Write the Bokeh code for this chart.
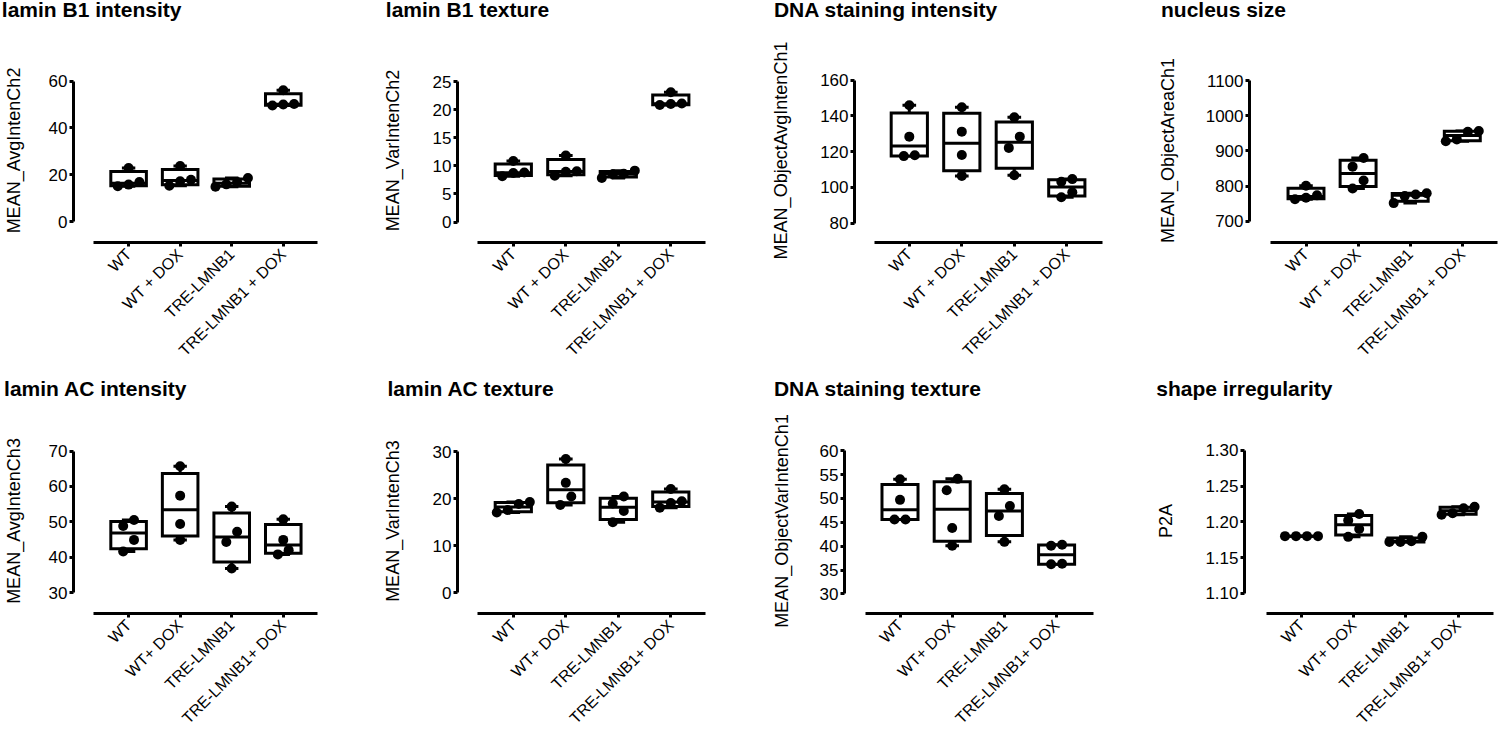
import math
from bokeh.plotting import figure
from bokeh.layouts import row, column
from bokeh.models import Range1d, FixedTicker, NumeralTickFormatter, BasicTickFormatter, Label
from bokeh.embed import file_html
from bokeh.resources import INLINE

# ------------------------------------------------------------------ data
categories_row1 = ["WT", "WT + DOX", "TRE-LMNB1", "TRE-LMNB1 + DOX"]
categories_row2 = ["WT", "WT+ DOX", "TRE-LMNB1", "TRE-LMNB1+ DOX"]

titles = ["lamin B1 intensity", "lamin B1 texture", "DNA staining intensity", "nucleus size",
          "lamin AC intensity", "lamin AC texture", "DNA staining texture", "shape irregularity"]
y_labels = ["MEAN_AvgIntenCh2", "MEAN_VarIntenCh2", "MEAN_ObjectAvgIntenCh1", "MEAN_ObjectAreaCh1",
            "MEAN_AvgIntenCh3", "MEAN_VarIntenCh3", "MEAN_ObjectVarIntenCh1", "P2A"]

ticks_lamin_b1_intensity = [0, 20, 40, 60]
ticks_lamin_b1_texture = [0, 5, 10, 15, 20, 25]
ticks_dna_intensity = [80, 100, 120, 140, 160]
ticks_nucleus_size = [700, 800, 900, 1000, 1100]
ticks_lamin_ac_intensity = [30, 40, 50, 60, 70]
ticks_lamin_ac_texture = [0, 10, 20, 30]
ticks_dna_texture = [30, 35, 40, 45, 50, 55, 60]
ticks_shape_irregularity = [1.10, 1.15, 1.20, 1.25, 1.30]

# four replicate values per group: WT, WT + DOX, TRE-LMNB1, TRE-LMNB1 + DOX
lamin_b1_intensity = [[15.2, 15.9, 17.0, 23.0], [15.4, 17.3, 18.0, 23.8],
                      [15.0, 16.0, 17.0, 18.7], [49.6, 50.0, 50.2, 56.1]]
lamin_b1_texture = [[8.14, 8.72, 8.83, 10.85], [8.26, 8.95, 9.05, 11.84],
                    [7.85, 8.5, 8.6, 9.15], [20.84, 21.0, 21.1, 23.1]]
dna_intensity = [[117.5, 118.0, 128.4, 146.0], [106.4, 118.1, 131.2, 144.9],
                 [106.8, 122.1, 128.4, 139.3], [94.4, 97.2, 103.1, 104.6]]
nucleus_size = [[762.5, 767.0, 773.6, 801.0], [792.9, 815.9, 855.4, 880.0],
                [751.5, 771.5, 776.0, 779.5], [928.0, 933.0, 955.0, 957.0]]
lamin_ac_intensity = [[41.6, 44.9, 48.8, 50.5], [44.9, 49.4, 57.4, 65.7],
                      [36.8, 44.3, 47.2, 54.3], [40.8, 42.0, 44.9, 50.7]]
lamin_ac_texture = [[17.1, 17.6, 18.9, 19.3], [18.7, 20.5, 23.4, 28.5],
                    [15.0, 17.4, 19.0, 20.5], [18.1, 19.1, 19.5, 22.1]]
dna_texture = [[45.6, 45.6, 49.7, 54.0], [40.1, 43.8, 51.7, 54.1],
               [40.9, 46.3, 48.4, 51.9], [36.2, 36.3, 40.1, 40.3]]
shape_irregularity = [[1.180, 1.180, 1.180, 1.180], [1.179, 1.190, 1.202, 1.211],
                      [1.172, 1.172, 1.173, 1.179], [1.210, 1.212, 1.219, 1.221]]

panel_data = [lamin_b1_intensity, lamin_b1_texture, dna_intensity, nucleus_size,
              lamin_ac_intensity, lamin_ac_texture, dna_texture, shape_irregularity]
panel_ticks = [ticks_lamin_b1_intensity, ticks_lamin_b1_texture, ticks_dna_intensity, ticks_nucleus_size,
               ticks_lamin_ac_intensity, ticks_lamin_ac_texture, ticks_dna_texture, ticks_shape_irregularity]
panel_cats = [categories_row1] * 4 + [categories_row2] * 4

# ------------------------------------------------------------------ layout (page pixels)
PAGE_W = 1500
# per row: (title strip top, title strip height, panel top, panel height)
ROWS = [(0, 24, 24, 350), (374, 27, 401, 340)]
LAYOUT = [
    # fig_x, W, yaxis_x, tick1_x, step, xaxis_left, xaxis_right, y_top, y_bottom, xaxis_y, title_x, title_base, ylab_base_x
    (0, 375, 69, 125, 52.4, 89, 317, 77, 221, 242, 1.3, 16.5, 13.5),
    (375, 375, 456.5, 512.3, 52.5, 476.7, 705, 76.7, 221, 242.3, 385.3, 16.5, 401),
    (750, 375, 854.5, 909.3, 52.5, 874.3, 1102.7, 80, 224.3, 244, 773.4, 16.5, 790),
    (1125, 375, 1249.5, 1306, 52.1, 1270.7, 1497.7, 76, 221, 242.3, 1160.5, 16.5, 1176),
    (0, 375, 69, 125, 52.4, 89.3, 317.3, 448, 592.7, 613.7, 3.6, 396, 13.5),
    (375, 375, 456.5, 512.3, 52.5, 476.7, 705, 448, 592.7, 614.3, 387, 396, 401),
    (750, 375, 844.5, 900, 52.2, 865, 1093.3, 450.3, 594.3, 614.3, 773.4, 396, 790),
    (1125, 375, 1244, 1301, 52.2, 1266, 1493.3, 448, 592.7, 613, 1155.7, 396, 1175),
]

FONT = "Liberation Sans"
BLACK = "#000000"
LW = 3
BOX_HALF = 0.345
CAP_HALF = 0.13
DOT = 10
TICK_FS = 17
YLAB_FS = 18
TITLE_FS = 21


def label_width(text, fs):
    w = 0.0
    for ch in text:
        w += 0.278 if ch == "." else 0.556
    return w * fs


def prism_quantile(vals, p):
    s = sorted(vals)
    n = len(s)
    pos = p * (n + 1)
    k = int(math.floor(pos))
    frac = pos - k
    if k < 1:
        return s[0]
    if k >= n:
        return s[-1]
    return s[k - 1] + frac * (s[k] - s[k - 1])


def swarm_offsets(vals, py, thresh=12.0, step=11.0):
    order = sorted(range(len(vals)), key=lambda k: vals[k])
    offs = [0.0] * len(vals)
    rows = []
    for k in order:
        if rows and (vals[k] - vals[rows[-1][0]]) * py < thresh:
            rows[-1].append(k)
        else:
            rows.append([k])
    for r in rows:
        n = len(r)
        for j, k in enumerate(r):
            offs[k] = (j - (n - 1) / 2.0) * step
    return offs


def make_title_strip(r):
    s_top, s_h, _, _ = ROWS[r]
    t = figure(width=PAGE_W, height=s_h, title=None,
               x_range=Range1d(0, PAGE_W), y_range=Range1d(s_top + s_h, s_top),
               x_axis_type=None, y_axis_type=None,
               min_border_left=0, min_border_right=0, min_border_top=0, min_border_bottom=0,
               output_backend="svg", toolbar_location=None)
    t.outline_line_color = None
    t.background_fill_color = "white"
    t.border_fill_color = "white"
    for i in range(4 * r, 4 * r + 4):
        tx, ty = LAYOUT[i][10], LAYOUT[i][11]
        # anchor at the vertical middle of the text, baseline ends up at ty
        t.add_layout(Label(x=tx, y=ty - 0.36 * TITLE_FS, text=titles[i], text_font=FONT,
                           text_font_size=f"{TITLE_FS}px", text_font_style="bold", text_color=BLACK,
                           text_align="left", text_baseline="middle"))
    return t


def make_panel(i):
    data = panel_data[i]
    ticks = panel_ticks[i]
    cats = panel_cats[i]
    (fig_x, W, yax, t1, step, xl, xr, ytop, ybot, xay, tx, ty, ylx) = LAYOUT[i]
    _, _, row_top, H = ROWS[i // 4]

    # frame top placed so that the frame centre matches the y-title centre
    ftop = 2 * ((ytop + ybot) / 2.0 - 1) - xay
    L = int(round(yax - fig_x))
    fw = int(round(xr - yax))
    R = W - L - fw
    T = int(round(ftop - row_top))
    fh = int(round(xay - ftop))
    B = H - T - fh

    ymin, ymax = ticks[0], ticks[-1]
    py = (ybot - ytop) / (ymax - ymin)
    y1 = ymax + (ytop - (row_top + T)) / py
    y0 = y1 - fh / py

    positions = list(range(1, len(cats) + 1))
    x0 = positions[0] - (t1 - yax) / step
    x1 = x0 + fw / step

    p = figure(width=W, height=H, title=None, x_range=Range1d(x0, x1), y_range=Range1d(y0, y1),
               min_border_left=L, min_border_right=R, min_border_top=T, min_border_bottom=B,
               output_backend="svg", toolbar_location=None)
    p.outline_line_color = None
    p.xgrid.visible = False
    p.ygrid.visible = False
    p.background_fill_color = "white"
    p.border_fill_color = "white"
    frame_left = fig_x + L

    # y axis
    ya = p.yaxis[0]
    ya.ticker = FixedTicker(ticks=ticks)
    ya.bounds = (ymin, ymax)
    if i == 7:
        ya.formatter = NumeralTickFormatter(format="0.00")
        tick_texts = [f"{t:.2f}" for t in ticks]
    else:
        ya.formatter = BasicTickFormatter()
        tick_texts = [str(t) for t in ticks]
    maxw = max(label_width(t, TICK_FS) for t in tick_texts)
    ylab_base = max(ylx, fig_x + 18)
    ya.axis_label = y_labels[i]
    ya.axis_label_text_font = FONT
    ya.axis_label_text_font_size = f"{YLAB_FS}px"
    ya.axis_label_text_font_style = "normal"
    ya.axis_label_text_color = BLACK
    ya.axis_label_standoff = max(0, int(round(frame_left - 4 - 2 - maxw - (ylab_base + 0.212 * YLAB_FS))))

    # x axis
    xa = p.xaxis[0]
    xa.ticker = FixedTicker(ticks=positions)
    xa.major_label_overrides = {pos: c for pos, c in zip(positions, cats)}
    xa.bounds = (positions[0] - (t1 - xl) / step, x1)
    xa.major_label_orientation = math.pi / 4
    for ax in (xa, ya):
        ax.axis_line_width = LW
        ax.axis_line_color = BLACK
        ax.major_tick_line_width = LW
        ax.major_tick_line_color = BLACK
        ax.major_tick_in = 0
        ax.major_tick_out = 4
        ax.minor_tick_line_color = None
        ax.major_label_text_font = FONT
        ax.major_label_text_color = BLACK
    ya.major_label_text_font_size = f"{TICK_FS}px"
    ya.major_label_standoff = 2
    xa.major_label_text_font_size = "16px"
    xa.major_label_standoff = 5

    # boxes (min-to-max whiskers, Prism quartiles)
    for pos, vals in zip(positions, data):
        q1 = prism_quantile(vals, 0.25)
        med = prism_quantile(vals, 0.5)
        q3 = prism_quantile(vals, 0.75)
        lo, hi = min(vals), max(vals)
        p.segment(x0=[pos, pos], y0=[q3, q1], x1=[pos, pos], y1=[hi, lo],
                  line_color=BLACK, line_width=LW)
        p.segment(x0=[pos - CAP_HALF, pos - CAP_HALF], y0=[hi, lo], x1=[pos + CAP_HALF, pos + CAP_HALF],
                  y1=[hi, lo], line_color=BLACK, line_width=LW)
        p.quad(left=[pos - BOX_HALF], right=[pos + BOX_HALF], bottom=[q1], top=[q3],
               fill_color="white", line_color=BLACK, line_width=LW, line_join="miter")
        p.segment(x0=[pos - BOX_HALF], y0=[med], x1=[pos + BOX_HALF], y1=[med],
                  line_color=BLACK, line_width=LW)
    # individual replicate dots
    for pos, vals in zip(positions, data):
        offs = swarm_offsets(vals, py)
        xs = [pos + o / step for o in offs]
        p.scatter(x=xs, y=vals, size=DOT, fill_color=BLACK, line_color=None)
    return p


panels = [make_panel(i) for i in range(8)]
layout = column(make_title_strip(0), row(*panels[:4], spacing=0),
                make_title_strip(1), row(*panels[4:], spacing=0), spacing=0)

open("out.html", "w").write(file_html(layout, INLINE))
